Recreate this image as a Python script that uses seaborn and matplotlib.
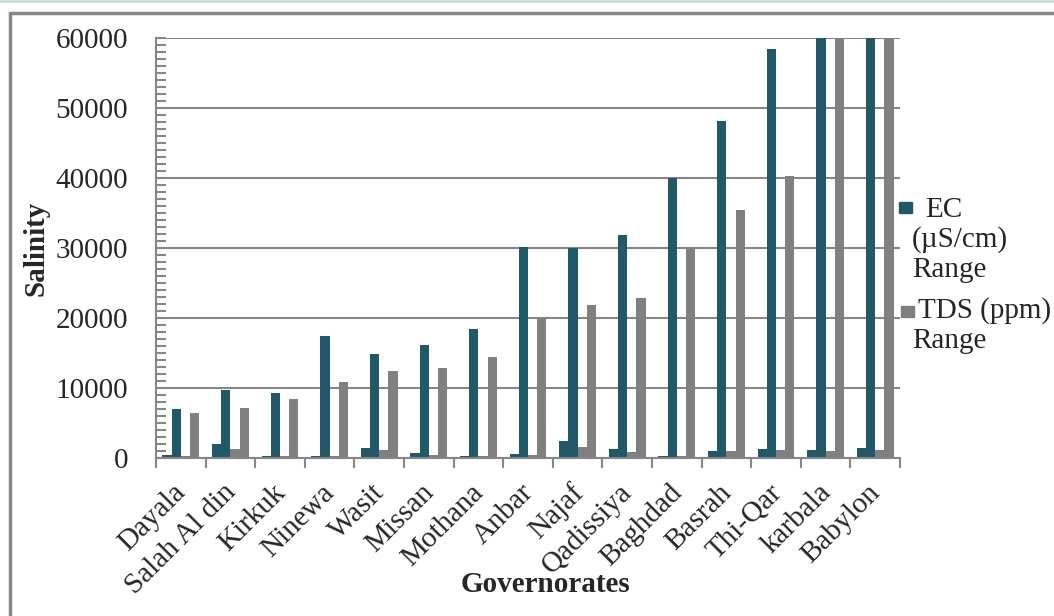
import numpy as np
import pandas as pd
import matplotlib
matplotlib.use('Agg')
import matplotlib.pyplot as plt
import seaborn as sns
from matplotlib.patches import Rectangle
from matplotlib.lines import Line2D
from matplotlib.ticker import MultipleLocator
from matplotlib.transforms import ScaledTranslation

sns.set_style('white')
plt.rcParams['font.family'] = ['Liberation Serif', 'DejaVu Serif']

# data (min / max of each range)
governorates = ['Dayala', 'Salah Al din', 'Kirkuk', 'Ninewa', 'Wasit', 'Missan',
                'Mothana', 'Anbar', 'Najaf', 'Qadissiya', 'Baghdad', 'Basrah',
                'Thi-Qar', 'karbala', 'Babylon']
ec_min = [500, 2000, 300, 300, 1500, 700, 300, 600, 2500, 1300, 300, 1000, 1300, 1200, 1500]
ec_max = [7000, 9700, 9300, 17500, 14800, 16200, 18400, 30200, 30000, 31900,
          40000, 48200, 58500, 60000, 60000]
tds_min = [300, 1300, 300, 300, 1100, 500, 300, 400, 1600, 900, 300, 1000, 1200, 1000, 1200]
tds_max = [6500, 7200, 8500, 10800, 12400, 12900, 14400, 20000, 21800, 22900,
           30000, 35400, 40300, 60000, 60000]

series = ['EC min', 'EC max', 'TDS min', 'TDS max']
teal = '#215968'
grey = '#808080'
axis_grey = '#868686'
fs = 21

df = pd.DataFrame({
    'Governorate': governorates * 4,
    'Series': np.repeat(series, len(governorates)),
    'Value': ec_min + ec_max + tds_min + tds_max,
})

W, H = 1054, 616
fig = plt.figure(figsize=(W / 100, H / 100), dpi=100)
ax = fig.add_axes([156 / W, 1 - 458 / H, (900 - 156) / W, (458 - 38) / H])

sns.barplot(data=df, x='Governorate', y='Value', hue='Series', order=governorates,
            hue_order=series, palette=[teal, teal, grey, grey], width=0.74,
            linewidth=0, saturation=1, legend=False, ax=ax)

ax.set_xlim(-0.5, len(governorates) - 0.5)
ax.set_ylim(0, 60000)
ax.yaxis.set_major_locator(MultipleLocator(10000))
ax.yaxis.set_minor_locator(MultipleLocator(1000))
ax.grid(axis='y', color=axis_grey, linewidth=1.5)
ax.set_axisbelow(True)
ax.set_xlabel('')
ax.set_ylabel('')

for side in ['top', 'right']:
    ax.spines[side].set_visible(False)
for side in ['left', 'bottom']:
    ax.spines[side].set_color(axis_grey)
    ax.spines[side].set_linewidth(1.5)

ax.tick_params(axis='y', which='both', left=True, direction='in', color=axis_grey,
               width=1.5, length=7, labelsize=fs, pad=20)

# category boundary ticks on the x axis
ax.set_xticks(np.arange(len(governorates)))
ax.set_xticklabels(governorates, rotation=45, ha='right', rotation_mode='anchor', fontsize=fs)
ax.tick_params(axis='x', which='major', bottom=False, pad=12)
shift = ScaledTranslation(-8 / 100, 0, fig.dpi_scale_trans)
for lab in ax.get_xticklabels():
    lab.set_transform(lab.get_transform() + shift)
ax.set_xticks(np.arange(-0.5, len(governorates)), minor=True)
ax.tick_params(axis='x', which='minor', bottom=True, direction='out', length=7, width=1.5,
               color=axis_grey)

def fy(y):
    return 1 - y / H

# axis titles placed where the source has them
fig.text(545 / W, fy(585), 'Governorates', fontsize=fs, fontweight='bold',
         ha='center', va='center')
fig.text(36 / W, fy(248), 'Salinity', fontsize=fs, fontweight='bold',
         ha='center', va='center', rotation=90)

# legend drawn as in the source: square marker, text wrapping underneath it
fig.add_artist(Rectangle((899 / W, fy(213)), 13 / W, 11 / H, color=teal,
                         transform=fig.transFigure))
fig.text(925 / W, fy(217), 'EC', fontsize=fs, va='baseline')
fig.text(912 / W, fy(247), '(µS/cm)', fontsize=fs, va='baseline')
fig.text(912 / W, fy(277), 'Range', fontsize=fs, va='baseline')
fig.add_artist(Rectangle((901 / W, fy(317)), 13 / W, 11 / H, color=grey,
                         transform=fig.transFigure))
fig.text(918 / W, fy(318), 'TDS (ppm)', fontsize=fs, va='baseline')
fig.text(912 / W, fy(348), 'Range', fontsize=fs, va='baseline')

# frame around the figure
fig.add_artist(Line2D([10 / W, 10 / W], [0, fy(13)], color=axis_grey, lw=2.5,
                      transform=fig.transFigure))
fig.add_artist(Line2D([10 / W, 1], [fy(13), fy(13)], color=axis_grey, lw=2.5,
                      transform=fig.transFigure))
fig.add_artist(Line2D([0, 1], [fy(1), fy(1)], color='#c5ded3', lw=2,
                      transform=fig.transFigure))

fig.savefig('out.png', dpi=100)
